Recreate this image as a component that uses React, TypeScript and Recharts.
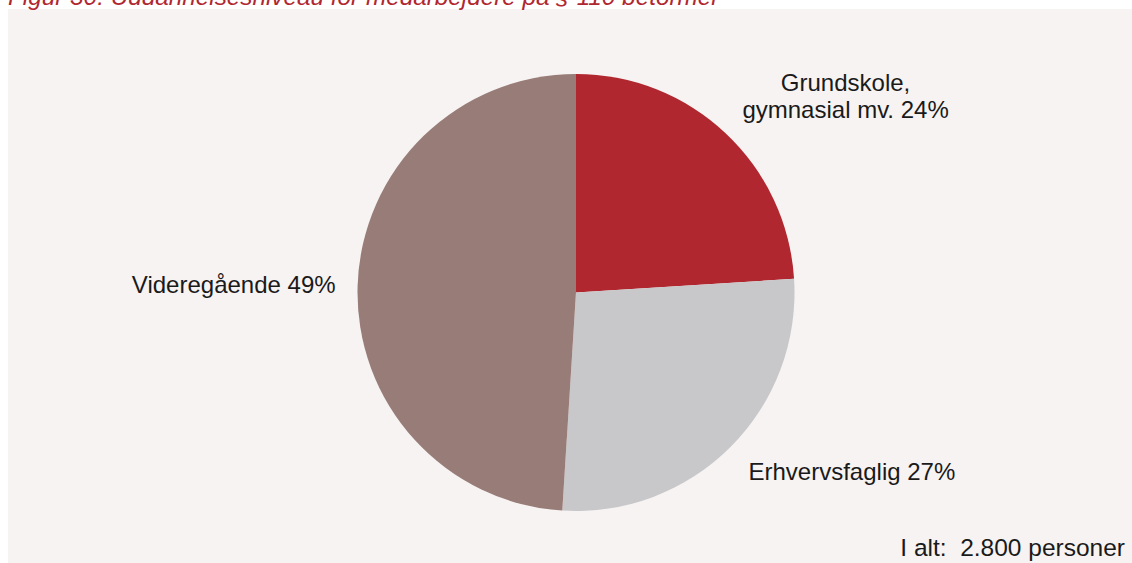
import React from "react";
import { PieChart, Pie, Cell } from "recharts";

const categories = ["Grundskole, gymnasial mv.", "Erhvervsfaglig", "Videregående"];
const shares = [24, 27, 49];
const colors = ["#b0272f", "#c8c8ca", "#977c77"];
const title = "Figur 30: Uddannelsesniveau for medarbejdere på § 110 betormer";
const totalNote = "I alt:  2.800 personer";

const data = categories.map((name, i) => ({ name, value: shares[i] }));

const RAD = Math.PI / 180;
const FONT = "'Liberation Sans', Arial, sans-serif";

const renderLabel = (props: any) => {
  const { cx, cy, midAngle, outerRadius, index, name, value } = props;
  const px = cx + outerRadius * Math.cos(-midAngle * RAD);
  const py = cy + outerRadius * Math.sin(-midAngle * RAD);
  const common = { fontFamily: FONT, fontSize: 24, fill: "#1a1a1a" } as const;
  if (index === 0) {
    const parts = String(name).split(", ");
    return (
      <text x={px + 120} y={py - 42} textAnchor="middle" {...common}>
        <tspan x={px + 120} dy={0}>{parts[0] + ","}</tspan>
        <tspan x={px + 120} dy={27}>{parts[1] + " " + value + "%"}</tspan>
      </text>
    );
  }
  if (index === 1) {
    return (
      <text x={px + 18} y={py + 33} textAnchor="start" {...common}>
        {name + " " + value + "%"}
      </text>
    );
  }
  return (
    <text x={px - 22} y={py + 7} textAnchor="end" {...common}>
      {name + " " + value + "%"}
    </text>
  );
};

export default function App() {
  return (
    <div
      style={{
        position: "absolute",
        left: 0,
        top: 0,
        width: 1132,
        height: 563,
        background: "#ffffff",
        overflow: "hidden",
      }}
    >
      <div
        style={{
          position: "absolute",
          left: 8,
          top: 9,
          width: 1124,
          height: 554,
          background: "#f7f3f2",
        }}
      />
      <div
        style={{
          position: "absolute",
          left: 8,
          top: -17,
          fontFamily: FONT,
          fontStyle: "italic",
          fontSize: 24.3,
          color: "#b0272f",
          whiteSpace: "nowrap",
          lineHeight: "28px",
        }}
      >
        {title}
      </div>
      <div style={{ position: "absolute", left: 0, top: 0 }}>
        <PieChart width={1132} height={563} margin={{ top: 0, right: 0, bottom: 0, left: 0 }}>
          <Pie
            data={data}
            dataKey="value"
            nameKey="name"
            cx={576}
            cy={292.5}
            outerRadius={218.5}
            startAngle={90}
            endAngle={-270}
            stroke="none"
            labelLine={false}
            label={renderLabel}
            isAnimationActive={false}
          >
            {data.map((d, i) => (
              <Cell key={d.name} fill={colors[i]} />
            ))}
          </Pie>
        </PieChart>
      </div>
      <div
        style={{
          position: "absolute",
          right: 7,
          top: 534,
          fontFamily: FONT,
          fontSize: 24.5,
          color: "#1a1a1a",
          whiteSpace: "pre",
          lineHeight: "28px",
        }}
      >
        {totalNote}
      </div>
    </div>
  );
}
